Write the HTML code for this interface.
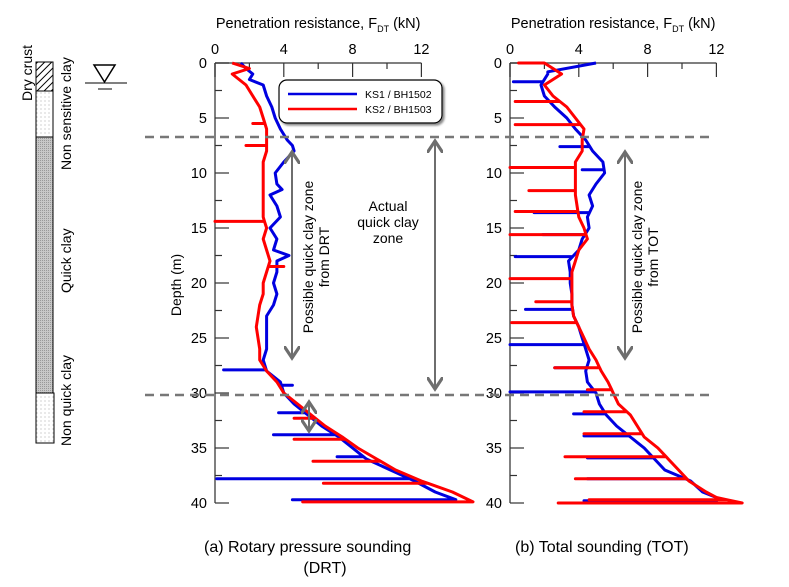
<!DOCTYPE html>
<html><head><meta charset="utf-8"><style>
body{margin:0;background:#fff}
svg{display:block;font-family:"Liberation Sans",Arial,sans-serif}
</style></head><body>
<svg id="c" width="789" height="587" viewBox="0 0 789 587">
<defs>
<pattern id="hatch" width="5" height="5" patternUnits="userSpaceOnUse" patternTransform="rotate(45)"><rect width="5" height="5" fill="#fff"/><line x1="0" y1="0" x2="0" y2="5" stroke="#000" stroke-width="2"/></pattern>
<pattern id="dots" width="4" height="4" patternUnits="userSpaceOnUse"><rect width="4" height="4" fill="#fff"/><circle cx="1" cy="1" r="0.5" fill="#888"/></pattern>
<pattern id="grey" width="2" height="2" patternUnits="userSpaceOnUse"><rect width="2" height="2" fill="#c8c8c8"/><rect width="1" height="1" fill="#999"/></pattern>
<marker id="ah" markerWidth="8" markerHeight="8" refX="6" refY="4" orient="auto-start-reverse"><path d="M0,0 L6,4 L0,8" fill="none" stroke="#6e6e6e" stroke-width="1.6"/></marker>
<filter id="sh"><feDropShadow dx="2" dy="2" stdDeviation="1" flood-color="#888"/></filter>
</defs>
<g id="strata">
<rect x="36" y="62" width="17" height="29" fill="url(#hatch)" stroke="#000"/>
<rect x="36" y="91" width="17" height="46" fill="url(#dots)" stroke="#000"/>
<rect x="36" y="137" width="17" height="256" fill="url(#grey)" stroke="#000"/>
<rect x="36" y="393" width="18" height="50" fill="url(#dots)" stroke="#000"/>
<text transform="translate(32,101) rotate(-90)" font-size="14">Dry crust</text>
<text transform="translate(71,170) rotate(-90)" font-size="14">Non sensitive clay</text>
<text transform="translate(71,293) rotate(-90)" font-size="14">Quick clay</text>
<text transform="translate(71,446) rotate(-90)" font-size="14">Non quick clay</text>
<g stroke="#000" fill="none" stroke-width="1.5">
<path d="M94,65 L115,65 L104.5,82 Z"/><line x1="85" y1="83" x2="127" y2="83" stroke-width="1"/><line x1="98" y1="89" x2="112" y2="89" stroke-width="1"/>
</g>
</g>
<g id="axes"></g>
<g id="series"></g>
<g>
<line x1="145" y1="137" x2="712" y2="137" stroke="#777" stroke-width="2.5" stroke-dasharray="9,6"/>
<line x1="145" y1="395" x2="712" y2="395" stroke="#777" stroke-width="2.5" stroke-dasharray="9,6"/>
<line x1="292" y1="152" x2="292" y2="358" stroke="#6e6e6e" stroke-width="2" marker-start="url(#ah)" marker-end="url(#ah)"/>
<line x1="435" y1="141" x2="435" y2="389" stroke="#6e6e6e" stroke-width="2" marker-start="url(#ah)" marker-end="url(#ah)"/>
<line x1="309" y1="402" x2="309" y2="431" stroke="#6e6e6e" stroke-width="2" marker-start="url(#ah)" marker-end="url(#ah)"/>
<line x1="625" y1="152" x2="625" y2="358" stroke="#6e6e6e" stroke-width="2" marker-start="url(#ah)" marker-end="url(#ah)"/>
<text transform="translate(313,257) rotate(-90)" font-size="14" text-anchor="middle"><tspan x="0" dy="0">Possible quick clay zone</tspan><tspan x="0" dy="16">from DRT</tspan></text>
<text x="388" y="211" font-size="14" text-anchor="middle"><tspan x="388">Actual</tspan><tspan x="388" dy="16">quick clay</tspan><tspan x="388" dy="16">zone</tspan></text>
<text transform="translate(642,257) rotate(-90)" font-size="14" text-anchor="middle"><tspan x="0" dy="0">Possible quick clay zone</tspan><tspan x="0" dy="16">from TOT</tspan></text>
</g>
<g>
<rect x="279" y="80" width="163" height="43" rx="8" fill="#fff" stroke="#000" stroke-width="1.2" filter="url(#sh)"/>
<line x1="288" y1="94" x2="357" y2="94" stroke="#0000e0" stroke-width="2.5"/>
<text x="365" y="98" font-size="10.5">KS1 / BH1502</text>
<line x1="288" y1="109" x2="357" y2="109" stroke="#f00" stroke-width="2.5"/>
<text x="365" y="113" font-size="10.5">KS2 / BH1503</text>
</g>
<text x="204" y="552" font-size="16">(a)  Rotary pressure sounding</text>
<text x="325" y="573" font-size="16" text-anchor="middle">(DRT)</text>
<text x="515" y="552" font-size="16">(b)  Total sounding (TOT)</text>
<text transform="translate(181,285) rotate(-90)" font-size="14" text-anchor="middle">Depth (m)</text>
</svg>
<script>
const xTicks=[0,4,8,12];
const xMinor=[2,6,10];
const yTicks=[0,5,10,15,20,25,30,35,40];
const yMinor=[2.5,7.5,12.5,17.5,22.5,27.5,32.5,37.5];
// DRT KS1 (blue)
const aBlueDepth=[0,0.5,1,1.5,2,3,4,5,6,7,7.5,8,9,10,11,11.5,12,13,14,15,16,17,17.5,18,19,20,21,22,23,24,25,26,27,28,29,30,31,32,33,34,35,36,37,38,39,39.7];
const aBlueForce=[1.5,1.8,2.2,2.0,2.8,3.0,3.3,3.5,3.8,4.2,4.5,4.6,4.0,3.5,3.6,3.9,3.2,3.6,3.8,3.2,3.6,3.4,4.3,3.6,3.6,3.4,3.6,3.4,3.0,3.0,3.0,3.0,2.8,3.0,3.8,4.0,4.6,5.4,6.2,7.2,8.0,8.8,10.2,11.6,12.8,14.0];
const aBlueSpikeDepth=[27.9,29.3,31.8,33.8,35.8,37.8,39.7];
const aBlueSpikeForce=[0.5,4.5,3.7,3.4,7.1,0.1,4.5];
// DRT KS2 (red)
const aRedDepth=[0,0.5,1,2,3,4,5,6,7,8,9,10,12,14,15,16,17,18,19,20,21,22,24,25,26,27,28,29,30,31,32,33,34,35,36,37,38,39,39.9];
const aRedForce=[1.0,2.0,1.0,1.8,2.2,2.6,2.8,3.0,3.0,3.0,2.8,2.8,2.8,2.8,3.0,2.8,3.0,3.2,3.0,2.8,2.8,2.6,2.4,2.5,2.6,2.6,3.0,3.6,4.0,4.8,5.6,6.4,7.4,8.3,9.4,10.5,12.0,13.8,15.0];
const aRedSpikeDepth=[5.5,7.5,14.4,18.5,32.3,34.2,36.2,38.2,39.9];
const aRedSpikeForce=[2.2,1.8,0,4.0,4.6,4.6,5.7,6.3,5.1];
// TOT KS1 (blue)
const bBlueDepth=[0,0.8,1,2,3,4,5,6,7,8,9,10,11,12,13,14,15,16,17,18,19,20,21,22,23,24,25,26,27,28,29,30,31,32,33,34,35,36,37,38,39,39.5,40];
const bBlueForce=[5.0,2.2,2.2,1.8,2.0,2.6,3.3,3.8,4.4,4.8,5.4,5.5,5.0,4.6,4.8,4.5,4.6,4.2,4.0,3.4,3.5,3.5,3.6,3.6,3.7,4.0,4.2,4.4,4.6,4.4,4.5,5.0,5.2,5.6,6.2,7.0,7.8,8.4,9.0,10.5,11.2,12.0,12.0];
const bBlueSpikeDepth=[1.7,7.6,9.7,13.6,15.6,17.6,22.4,25.6,27.7,29.9,31.9,33.9,35.9,37.8,39.8];
const bBlueSpikeForce=[0.2,2.9,4.2,1.4,1.9,0.3,0.9,0,2.6,0,3.7,4.3,4.5,4.5,4.3];
// TOT KS2 (red)
const bRedDepth=[0,1,2,3,4,5,6,7,8,9,10,12,14,15,16,17,18,19,20,21,22,23,24,25,26,27,28,29,30,31,32,33,34,35,36,37,38,39,39.5,40];
const bRedForce=[2.0,3.0,2.0,2.5,3.3,3.8,4.3,4.2,4.2,3.8,3.8,3.8,4.0,4.3,4.5,4.0,3.8,3.6,3.6,3.6,3.6,3.7,4.0,4.3,4.6,5.0,5.3,5.7,6.0,6.3,7.0,7.4,7.8,8.6,9.2,9.8,10.4,11.4,12.0,13.5];
const bRedSpikeDepth=[0,3.5,5.6,9.5,11.6,13.5,15.6,19.6,21.7,23.6,27.7,29.7,31.7,33.7,35.8,37.8,39.7,40.0];
const bRedSpikeForce=[0.5,0.3,0.3,0,1.1,0.3,0,0,1.5,0.1,2.6,4.5,4.3,4.3,3.2,3.8,4.6,2.8];

const NS='http://www.w3.org/2000/svg';
const Y0=63,PXM=11,PXF=17.2;
const panels=[{x0:215,name:'drt'},{x0:510,name:'tot'}];
function yS(d){return Y0+d*PXM;}
function xS(p,f){return p.x0+f*PXF;}
function mk(t,a,parent){const e=document.createElementNS(NS,t);for(const k in a)e.setAttribute(k,a[k]);parent.appendChild(e);return e;}
const ax=document.getElementById('axes');
panels.forEach(p=>{
  const g=mk('g',{},ax);
  
  
  const t=mk('text',{x:xS(p,6),y:28,'font-size':14.5,'text-anchor':'middle'},g);
  
  
  t.innerHTML='Penetration resistance, F<tspan font-size="9" dy="4">DT</tspan><tspan dy="-4"> (kN)</tspan>';
  mk('line',{x1:p.x0,y1:Y0,x2:xS(p,12),y2:Y0,stroke:'#555','stroke-width':1.5},g);
  mk('line',{x1:p.x0,y1:Y0,x2:p.x0,y2:yS(40),stroke:'#555','stroke-width':1.5},g);
  xTicks.forEach(v=>{mk('line',{x1:xS(p,v),y1:Y0,x2:xS(p,v),y2:Y0+14,stroke:'#333','stroke-width':1.2},g);
    const l=mk('text',{x:xS(p,v),y:54,'font-size':14.5,'text-anchor':'middle'},g);l.textContent=v;
    
    });
  xMinor.forEach(v=>mk('line',{x1:xS(p,v),y1:Y0,x2:xS(p,v),y2:Y0+6,stroke:'#333','stroke-width':1.2},g));
  yTicks.forEach(v=>{mk('line',{x1:p.x0,y1:yS(v),x2:p.x0+14,y2:yS(v),stroke:'#333','stroke-width':1.2},g);
    const l=mk('text',{x:p.x0-8,y:yS(v)+5,'font-size':14.5,'text-anchor':'end'},g);l.textContent=v;
    
    });
  yMinor.forEach(v=>mk('line',{x1:p.x0,y1:yS(v),x2:p.x0+7,y2:yS(v),stroke:'#333','stroke-width':1.2},g));
});
function interp(D,F,d){for(let i=0;i<D.length-1;i++){if(d>=D[i]&&d<=D[i+1]){const t=(d-D[i])/((D[i+1]-D[i])||1);return F[i]+t*(F[i+1]-F[i]);}}return F[F.length-1];}
function draw(p,D,F,SD,SF,color,name){
  const pts=D.map((d,i)=>[d,F[i]]);
  SD.forEach((d,i)=>{const b=interp(D,F,d);pts.push([d-0.001,b],[d,SF[i]],[d+0.001,b]);});
  pts.sort((a,b)=>a[0]-b[0]);
  const path=pts.map((q,i)=>(i?'L':'M')+xS(p,q[1]).toFixed(1)+','+yS(q[0]).toFixed(1)).join(' ');
  const e=mk('path',{d:path,fill:'none',stroke:color,'stroke-width':3,'stroke-linejoin':'round'},document.getElementById('series'));
  
  
}
draw(panels[0],aBlueDepth,aBlueForce,aBlueSpikeDepth,aBlueSpikeForce,'#0000e0','drt-ks1-line');
draw(panels[0],aRedDepth,aRedForce,aRedSpikeDepth,aRedSpikeForce,'#f00','drt-ks2-line');
draw(panels[1],bBlueDepth,bBlueForce,bBlueSpikeDepth,bBlueSpikeForce,'#0000e0','tot-ks1-line');
draw(panels[1],bRedDepth,bRedForce,bRedSpikeDepth,bRedSpikeForce,'#f00','tot-ks2-line');
</script>
</body></html>
